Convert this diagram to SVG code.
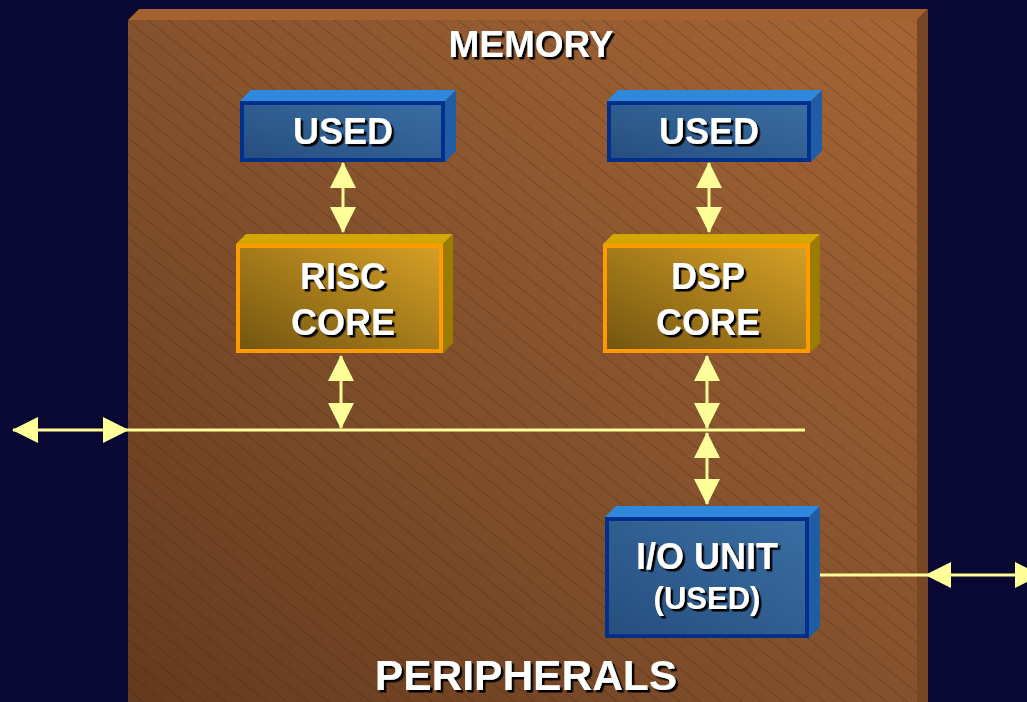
<svg xmlns="http://www.w3.org/2000/svg" width="1027" height="702" viewBox="0 0 1027 702">
<defs>
<style>
.t{font-family:"Liberation Sans",Arial,sans-serif;font-weight:bold;fill:#fff;text-anchor:middle;filter:url(#sh)}
.ln{stroke:#FFFF99;stroke-width:3;fill:none}
.ar{stroke:#FFFF99;stroke-width:3;fill:none;marker-start:url(#ah);marker-end:url(#ah)}
.bf{fill:url(#blueG);stroke:#00308C;stroke-width:4}
.bt{fill:#2E88DC}
.br{fill:#1F5EA6}
.gf{fill:url(#goldG);stroke:#FF9A00;stroke-width:4}
.gt{fill:#D4A600}
.gr{fill:#9C7C00}
</style>
<filter id="sh" x="-10%" y="-20%" width="130%" height="150%">
<feDropShadow dx="2.5" dy="2.5" stdDeviation="0" flood-color="#000" flood-opacity="1"/>
</filter>
<marker id="ah" viewBox="0 0 26 26" refX="25" refY="13" markerWidth="26" markerHeight="26" markerUnits="userSpaceOnUse" orient="auto-start-reverse">
<path d="M0,0 L26,13 L0,26 z" fill="#FFFF99"/>
</marker>
<linearGradient id="brownG" x1="0" y1="1" x2="1" y2="0">
<stop offset="0" stop-color="#643A1E"/>
<stop offset="0.5" stop-color="#86522D"/>
<stop offset="1" stop-color="#A66535"/>
</linearGradient>
<linearGradient id="blueG" x1="0" y1="1" x2="1" y2="0">
<stop offset="0" stop-color="#264E7E"/>
<stop offset="1" stop-color="#3A6EA4"/>
</linearGradient>
<linearGradient id="goldG" x1="0" y1="1" x2="1" y2="0">
<stop offset="0" stop-color="#735510"/>
<stop offset="1" stop-color="#D6A025"/>
</linearGradient>
<pattern id="hatch" width="13" height="13" patternUnits="userSpaceOnUse" patternTransform="rotate(39)">
<line x1="0" y1="0.5" x2="13" y2="0.5" stroke="#3A200E" stroke-width="0.7" stroke-opacity="0.4"/>
</pattern>
</defs>
<rect width="1027" height="702" fill="#080833"/>
<g id="memory-board">
<polygon points="128,20 139,9 928,9 917,20" fill="#A3622F"/>
<polygon points="917,20 928,9 928,702 917,702" fill="#774624"/>
<rect x="128" y="20" width="789" height="682" fill="url(#brownG)"/>
<rect x="128" y="20" width="789" height="682" fill="url(#hatch)"/>
<text class="t" x="531" y="57" font-size="37">MEMORY</text>
<text class="t" x="526" y="690" font-size="42.5">PERIPHERALS</text>
</g>
<g id="connectors">
<line class="ln" x1="128" y1="430" x2="805" y2="430"/>
<line class="ar" x1="13" y1="430" x2="128" y2="430"/>
<line class="ln" x1="820" y1="575" x2="926" y2="575"/>
<line class="ar" x1="926" y1="575" x2="1040" y2="575"/>
<line class="ar" x1="343" y1="163" x2="343" y2="232"/>
<line class="ar" x1="709" y1="163" x2="709" y2="232"/>
<line class="ar" x1="341" y1="356" x2="341" y2="428"/>
<line class="ar" x1="707" y1="356" x2="707" y2="428"/>
<line class="ar" x1="707" y1="433" x2="707" y2="504"/>
</g>
<g id="used1">
<polygon class="bt" points="240,101 251,90 456,90 445,101"/>
<polygon class="br" points="445,101 456,90 456,151 445,162"/>
<rect class="bf" x="242" y="103" width="201" height="57"/>
<text class="t" x="343" y="144" font-size="36">USED</text>
</g>
<g id="used2">
<polygon class="bt" points="607,101 618,90 822,90 811,101"/>
<polygon class="br" points="811,101 822,90 822,151 811,162"/>
<rect class="bf" x="609" y="103" width="200" height="57"/>
<text class="t" x="709" y="144" font-size="36">USED</text>
</g>
<g id="risc-core">
<polygon class="gt" points="236,244 246,234 453,234 443,244"/>
<polygon class="gr" points="443,244 453,234 453,343 443,353"/>
<rect class="gf" x="238" y="246" width="203" height="105"/>
<text class="t" x="343" y="289" font-size="36">RISC</text>
<text class="t" x="343" y="335" font-size="36">CORE</text>
</g>
<g id="dsp-core">
<polygon class="gt" points="603,244 613,234 820,234 810,244"/>
<polygon class="gr" points="810,244 820,234 820,343 810,353"/>
<rect class="gf" x="605" y="246" width="203" height="105"/>
<text class="t" x="708" y="289" font-size="36">DSP</text>
<text class="t" x="708" y="335" font-size="36">CORE</text>
</g>
<g id="io-unit">
<polygon class="bt" points="605,517 616,506 820,506 809,517"/>
<polygon class="br" points="809,517 820,506 820,627 809,638"/>
<rect class="bf" x="607" y="519" width="200" height="117"/>
<text class="t" x="707" y="569" font-size="36">I/O UNIT</text>
<text class="t" x="707" y="609" font-size="31">(USED)</text>
</g>
</svg>
